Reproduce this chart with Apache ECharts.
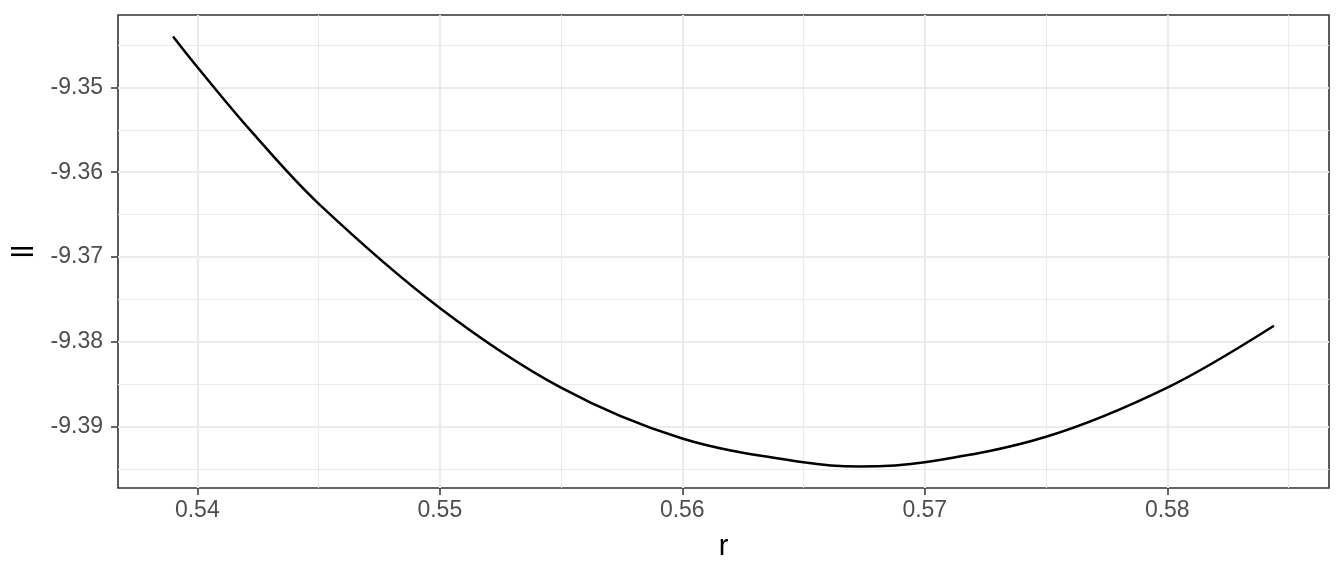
<!DOCTYPE html>
<html>
<head>
<meta charset="utf-8">
<script src="https://cdn.jsdelivr.net/npm/echarts@6/dist/echarts.min.js"></script>
<style>
  html, body { margin: 0; padding: 0; background: #fff; }
  #chart { width: 1344px; height: 576px; }
</style>
</head>
<body>
<div id="chart"></div>
<script>
// curve
const rValues = [0.5390, 0.5400, 0.5422, 0.5450, 0.5500, 0.5550,
                 0.5600, 0.5650, 0.5673, 0.5700, 0.5750, 0.5800, 0.5844];
const llValues = [-9.3440, -9.3476, -9.3551, -9.3637, -9.3760, -9.3854,
                  -9.3914, -9.3942, -9.3947, -9.3942, -9.3912, -9.3854, -9.3781];

// axis breaks
const xTicks = [0.54, 0.55, 0.56, 0.57, 0.58];
const xMinor = [0.535, 0.545, 0.555, 0.565, 0.575, 0.585];
const yTicks = [-9.39, -9.38, -9.37, -9.36, -9.35];
const yMinor = [-9.395, -9.385, -9.375, -9.365, -9.355, -9.345];

// ggplot-style 5% expansion of the data range
const xSpan = rValues[rValues.length - 1] - rValues[0];
const xMin = rValues[0] - 0.05 * xSpan;
const xMax = rValues[rValues.length - 1] + 0.05 * xSpan;
const yLo = Math.min(...llValues), yHi = Math.max(...llValues);
const yMin = yLo - 0.05 * (yHi - yLo);
const yMax = yHi + 0.05 * (yHi - yLo);

const FONT = '"Liberation Sans", Arial, sans-serif';
const GRID_COL = '#EBEBEB';

const chart = echarts.init(document.getElementById('chart'));

const labelStyle = (ticks, margin) => ({
  customValues: ticks, margin: margin,
  color: '#4D4D4D', fontSize: 23, fontFamily: FONT,
  formatter: v => v.toFixed(2)
});

const majorAxis = (ticks, extra) => Object.assign({
  type: 'value',
  axisLine: { show: false },
  axisTick: { show: true, length: 7, lineStyle: { color: '#333333', width: 1.5 }, customValues: ticks },
  splitLine: { show: true, lineStyle: { color: GRID_COL, width: 2.2 } }
}, extra);

const minorAxis = (ticks, extra) => Object.assign({
  type: 'value',
  axisLine: { show: false },
  axisTick: { show: false, customValues: ticks },
  axisLabel: { show: false, customValues: ticks },
  splitLine: { show: true, lineStyle: { color: GRID_COL, width: 1.1 } }
}, extra);

let option = {
  animation: false,
  backgroundColor: '#ffffff',
  grid: {
    left: 118, right: 15, top: 15, bottom: 88,
    show: true, borderColor: '#333333', borderWidth: 1.6, backgroundColor: 'transparent'
  },
  xAxis: [
    minorAxis(xMinor, { min: xMin, max: xMax, position: 'top' }),
    majorAxis(xTicks, {
      min: xMin, max: xMax, position: 'bottom',
      name: 'r', nameLocation: 'middle', nameGap: 44,
      nameTextStyle: { color: '#000', fontSize: 29, fontFamily: FONT },
      axisLabel: labelStyle(xTicks, 11)
    })
  ],
  yAxis: [
    minorAxis(yMinor, { min: yMin, max: yMax, position: 'right' }),
    majorAxis(yTicks, {
      min: yMin, max: yMax, position: 'left',
      name: 'll', nameLocation: 'middle', nameGap: 75, nameRotate: 90,
      nameTextStyle: { color: '#000', fontSize: 29, fontFamily: FONT },
      axisLabel: labelStyle(yTicks, 15)
    })
  ],
  series: [{
    type: 'line',
    xAxisIndex: 1,
    yAxisIndex: 1,
    data: rValues.map((r, i) => [r, llValues[i]]),
    smooth: 0.35,
    showSymbol: false,
    lineStyle: { color: '#000000', width: 2.5 },
    z: 5
  }]
};

chart.setOption(option);
</script>
</body>
</html>
